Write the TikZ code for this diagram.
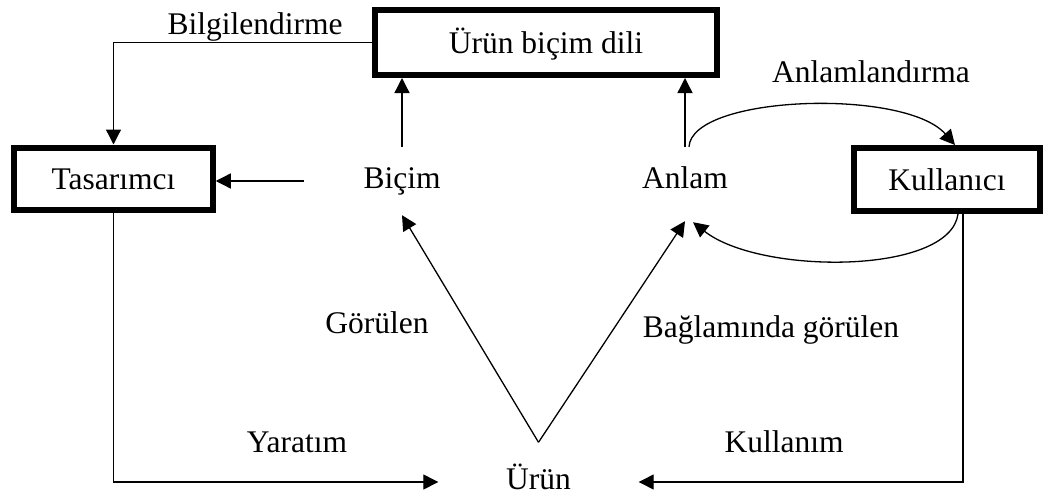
\documentclass[tikz,border=0pt]{standalone}
\usepackage{fontspec}
\setmainfont{Liberation Serif}
\usetikzlibrary{arrows.meta}
\begin{document}
\begin{tikzpicture}[x=1pt,y=-1pt,
  every node/.style={font=\fontsize{31.5}{36}\selectfont, inner sep=0pt},
  boxnode/.style={draw, line width=6pt, text height=22.7pt, text depth=0.6pt},
  freenode/.style={text height=22pt, text depth=7pt},
  link/.style={line width=1.3pt, -{Triangle[length=15pt,width=15pt]}},
  plain/.style={line width=1.3pt}
]
\useasboundingbox (0,0) rectangle (1044,495);

% boxed actors and the shared product language
\node[boxnode, minimum width=342pt, minimum height=65pt] (ubd) at (546,42.5) {Ürün biçim dili};
\node[boxnode, minimum width=198.5pt, minimum height=62pt] (tas) at (113.5,178.5) {Tasarımcı};
\node[boxnode, minimum width=186pt, minimum height=63pt] (kul) at (947,179.5) {Kullanıcı};

% unboxed concepts
\node[freenode, minimum width=196pt, minimum height=68pt] (bic) at (402,181) {Biçim};
\node[freenode, minimum width=120pt, minimum height=68pt] (anl) at (685,181) {Anlam};
\node[freenode, minimum width=200pt, minimum height=79pt] (urun) at (538.5,482) {Ürün};

% connectors
\draw[link] (ubd.west) -| (tas.north);
\draw[link] (bic.west) -- (bic.west -| tas.east);
\draw[link] (bic.north) -- (bic.north |- ubd.south);
\draw[link] (anl.north) -- (anl.north |- ubd.south);
\draw[link] (urun.north) -- (bic.south);
\draw[link] (urun.north) -- ([yshift=-6pt]anl.south);
\draw[link] ([xshift=4pt]anl.north) .. controls (692,95) and (905,88) .. ([xshift=8pt]kul.north);
\draw[link] ([xshift=11pt]kul.south) .. controls (950,275) and (760,275) .. ([xshift=8pt,yshift=-7pt]anl.south);
\draw[link] (tas.south) |- (urun.west);
\draw[link] ([xshift=16pt]kul.south) |- (urun.east);

% connector labels
\node[anchor=base] (lbil) at (255,35) {Bilgilendirme};
\node[anchor=base] (lanl) at (871,82) {Anlamlandırma};
\node[anchor=base] (lgor) at (377,333) {Görülen};
\node[anchor=base] (lbag) at (771,337) {Bağlamında görülen};
\node[anchor=base] (lyar) at (297,452) {Yaratım};
\node[anchor=base] (lkul) at (784,452) {Kullanım};
\end{tikzpicture}
\end{document}
